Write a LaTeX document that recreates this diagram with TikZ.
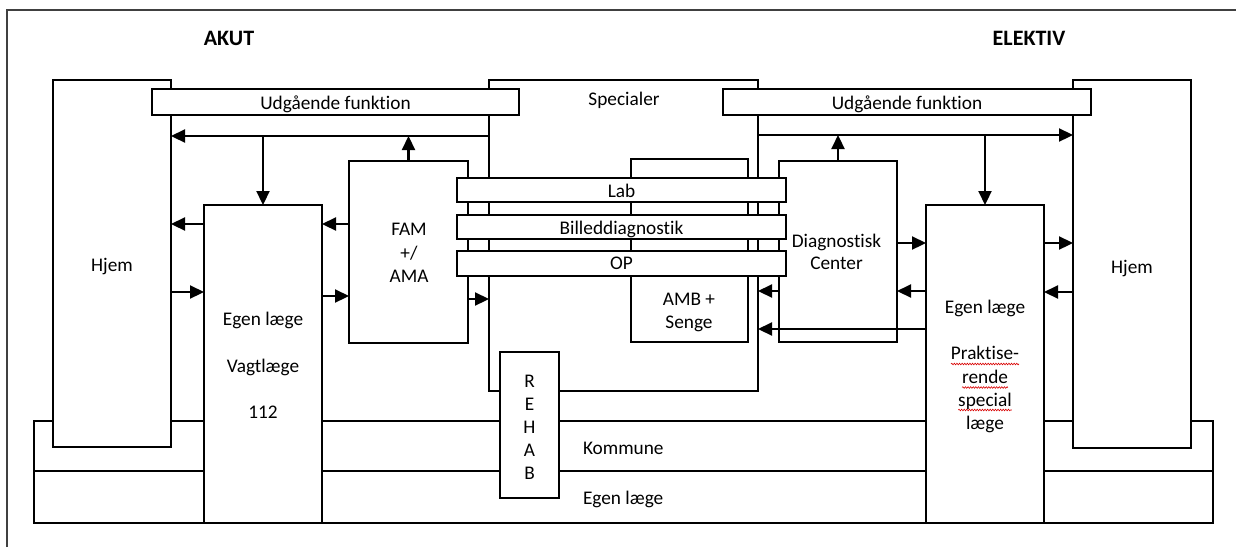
\documentclass[tikz,border=0pt]{standalone}
\usepackage{fontspec}
\setmainfont{Carlito}[Ligatures=NoCommon]
\usetikzlibrary{arrows.meta,decorations.pathmorphing,calc}
\begin{document}
\begin{tikzpicture}[x=1pt,y=-1pt,
  every node/.style={font=\fontsize{19.3}{23}\selectfont},
  box/.style={draw, fill=white, line width=2.2pt, inner sep=0pt, outer sep=0pt},
  txt/.style={inner sep=0pt, outer sep=0pt, anchor=base},
  head/.style={txt, font=\fontsize{22}{26}\selectfont\bfseries},
  arr/.style={line width=2.2pt, -{Triangle[length=14pt,width=13pt]}},
  ln/.style={line width=2.2pt},
  squig/.style={draw=red!85!black, line width=0.6pt,
    decorate, decoration={snake, amplitude=0.8pt, segment length=2.6pt}}]

\useasboundingbox (0,0) rectangle (1236,547);

% page frame
\draw[line width=1.2pt, black!75] (7,547) -- (7,10) -- (1236,10);

% arrow rows
\coordinate (ytl) at (0,136);
\coordinate (ytr) at (0,135);
\coordinate (y224) at (0,224);
\coordinate (y292) at (0,292);
\coordinate (y296) at (0,296);
\coordinate (y299) at (0,299);
\coordinate (y243) at (0,243);
\coordinate (y291) at (0,291);
\coordinate (y329) at (0,329);
\coordinate (ymid) at (0,471);

% bottom band: Kommune / Egen laege
\node[box, minimum width=1179pt, minimum height=102pt] (band) at (623.5,472) {};
\draw[ln] (band.west |- ymid) -- (band.east |- ymid);

% home boxes
\node[box, minimum width=118pt, minimum height=367pt] (hjemL) at (112,263.5) {};
\node[box, minimum width=118pt, minimum height=368pt] (hjemR) at (1132,264) {};

% specialist block and inner units
\node[box, minimum width=269pt, minimum height=311pt] (spec) at (623.5,235.5) {};
\node[box, minimum width=117pt, minimum height=183pt] (amb) at (689.5,250.5) {};
\node[box, minimum width=119pt, minimum height=182pt] (fam) at (408.5,252) {};
\node[box, minimum width=118pt, minimum height=181pt] (diag) at (838,251.5) {};

% shared bars
\node[box, minimum width=329pt, minimum height=24pt] (lab) at (621.5,190) {};
\node[box, minimum width=329pt, minimum height=24pt] (bild) at (621.5,227) {};
\node[box, minimum width=329pt, minimum height=25pt] (op) at (621.5,263.5) {};

% outgoing function bars
\node[box, minimum width=367pt, minimum height=26pt] (udgL) at (335.5,102) {};
\node[box, minimum width=368pt, minimum height=26pt] (udgR) at (907,102) {};

% GP columns and rehab
\node[box, minimum width=118pt, minimum height=318pt] (egenL) at (263,364) {};
\node[box, minimum width=118pt, minimum height=318pt] (egenR) at (985,364) {};
\node[box, minimum width=59pt, minimum height=146pt] (rehab) at (529.5,425) {};

% left side flows
\draw[arr] (spec.west |- ytl) -- (hjemL.east |- ytl);
\draw[arr] (egenL.north |- ytl) -- (egenL.north);
\draw[arr] (fam.north) -- (fam.north |- ytl);
\draw[arr] (egenL.west |- y224) -- (hjemL.east |- y224);
\draw[arr] (fam.west |- y224) -- (egenL.east |- y224);
\draw[arr] (hjemL.east |- y292) -- (egenL.west |- y292);
\draw[arr] (egenL.east |- y296) -- (fam.west |- y296);
\draw[arr] (fam.east |- y299) -- (spec.west |- y299);

% right side flows
\draw[arr] (spec.east |- ytr) -- (hjemR.west |- ytr);
\draw[arr] (egenR.north |- ytr) -- (egenR.north);
\draw[arr] (diag.north) -- (diag.north |- ytr);
\draw[arr] (diag.east |- y243) -- (egenR.west |- y243);
\draw[arr] (egenR.east |- y243) -- (hjemR.west |- y243);
\draw[arr] (hjemR.west |- y292) -- (egenR.east |- y292);
\draw[arr] (egenR.west |- y291) -- (diag.east |- y291);
\draw[arr] (diag.west |- y291) -- (spec.east |- y291);
\draw[arr] (egenR.west |- y329) -- (spec.east |- y329);

% headings
\node[head] (tAkut) at (229,45) {AKUT};
\node[head] (tElektiv) at (1029,45) {ELEKTIV};

% labels
\node[txt] (tSpec) at (624,105) {Specialer};
\node[txt] (tUdgL) at (udgL.center |- 0,109) {Udgående funktion};
\node[txt] (tUdgR) at (udgR.center |- 0,109) {Udgående funktion};
\node[txt] (tHjemL) at (112,271) {Hjem};
\node[txt] (tHjemR) at (1132,273) {Hjem};

\node[txt] (tFam1) at (409,235) {FAM};
\node[txt] (tFam2) at (409,259) {+/};
\node[txt] (tFam3) at (409,282) {AMA};

\node[txt] (tEgL1) at (263,325) {Egen læge};
\node[txt] (tEgL2) at (263,372) {Vagtlæge};
\node[txt] (tEgL3) at (263,418) {112};

\node[txt] (tLab) at (621.5,197) {Lab};
\node[txt] (tBild) at (621.5,234) {Billeddiagnostik};
\node[txt] (tOp) at (621.5,269.5) {OP};

\node[txt] (tAmb1) at (689,305) {AMB +};
\node[txt] (tAmb2) at (689,328) {Senge};

\node[txt] (tDiag1) at (836.5,247) {Diagnostisk};
\node[txt] (tDiag2) at (836.5,269) {Center};

\node[txt] (tEgR1) at (985,313) {Egen læge};
\node[txt] (tEgR2) at (985,359) {Praktise-};
\node[txt] (tEgR3) at (985,383) {rende};
\node[txt] (tEgR4) at (985,406) {special};
\node[txt] (tEgR5) at (985,429) {læge};

\node[txt] (tR1) at (529.5,387) {R};
\node[txt] (tR2) at (529.5,410) {E};
\node[txt] (tR3) at (529.5,433) {H};
\node[txt] (tR4) at (529.5,456) {A};
\node[txt] (tR5) at (529.5,479) {B};

\node[txt, anchor=base west] (tKom) at (583,454) {Kommune};
\node[txt, anchor=base west] (tEgB) at (583,504) {Egen læge};

% spell-check underlines
\path[squig] ($(tEgR2.base west)+(0,5)$) -- ($(tEgR2.base east)+(0,5)$);
\path[squig] ($(tEgR3.base west)+(0,4.5)$) -- ($(tEgR3.base east)+(0,4.5)$);
\path[squig] ($(tEgR4.base west)+(0,4)$) -- ($(tEgR4.base east)+(0,4)$);

\end{tikzpicture}
\end{document}
